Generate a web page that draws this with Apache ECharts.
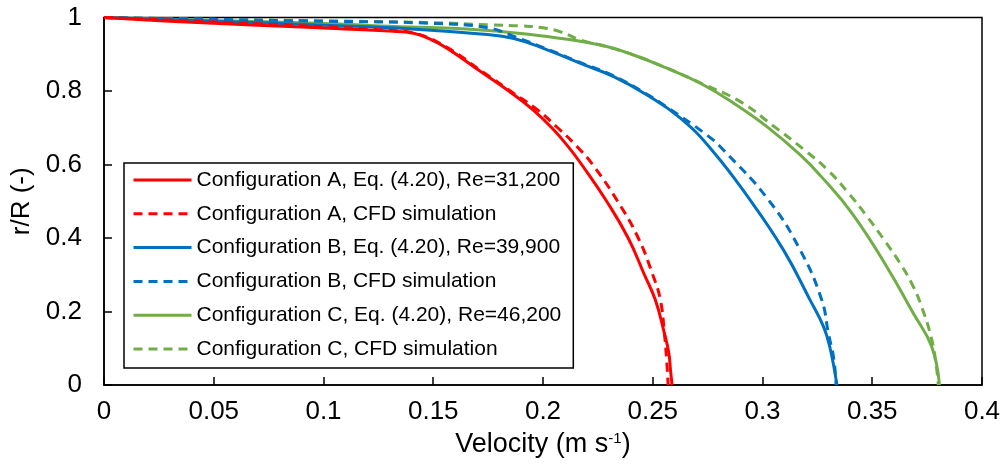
<!DOCTYPE html>
<html>
<head>
<meta charset="utf-8">
<script src="https://cdn.jsdelivr.net/npm/echarts@6/dist/echarts.min.js"></script>
<style>
html,body{margin:0;padding:0;background:#fff;}
#chart{width:1006px;height:465px;}
</style>
</head>
<body>
<div id="chart"></div>
<script>
// Tick labels / axis ranges
const xTicks = [0, 0.05, 0.1, 0.15, 0.2, 0.25, 0.3, 0.35, 0.4];
const yTicks = [0, 0.2, 0.4, 0.6, 0.8, 1];

const seriesNames = [
  'Configuration A, Eq. (4.20), Re=31,200',
  'Configuration A, CFD simulation',
  'Configuration B, Eq. (4.20), Re=39,900',
  'Configuration B, CFD simulation',
  'Configuration C, Eq. (4.20), Re=46,200',
  'Configuration C, CFD simulation'
];

// [velocity (m/s), r/R]
const configA_eq = [[0,1],[0.03,0.99],[0.07,0.979],[0.11,0.969],[0.13,0.963],[0.141,0.957],[0.149,0.94],[0.1564,0.916],[0.1716,0.853],[0.1858,0.794],[0.1952,0.75],[0.204,0.7],[0.2113,0.65],[0.2176,0.6],[0.229,0.5],[0.2388,0.4],[0.2462,0.3],[0.2512,0.231],[0.2553,0.141],[0.2573,0.088],[0.2581,0.04],[0.2588,0]];
const configA_cfd = [[0,1],[0.05,0.988],[0.1,0.975],[0.13,0.965],[0.141,0.958],[0.1564,0.918],[0.1716,0.856],[0.1866,0.794],[0.1972,0.75],[0.2067,0.7],[0.2153,0.65],[0.2226,0.6],[0.234,0.5],[0.2434,0.4],[0.25,0.3],[0.2535,0.231],[0.2553,0.141],[0.2563,0.07],[0.257,0]];
const configB_eq = [[0,1],[0.05,0.99],[0.1,0.979],[0.14,0.969],[0.1716,0.955],[0.1867,0.943],[0.2019,0.912],[0.2171,0.875],[0.2322,0.839],[0.2474,0.789],[0.2626,0.726],[0.277,0.639],[0.2944,0.503],[0.3096,0.367],[0.3217,0.231],[0.3278,0.159],[0.3308,0.1],[0.3339,0]];
const configB_cfd = [[0,1],[0.05,0.995],[0.1,0.99],[0.15,0.984],[0.175,0.972],[0.187,0.948],[0.2019,0.914],[0.2171,0.877],[0.2322,0.841],[0.2474,0.791],[0.255,0.762],[0.2747,0.68],[0.2823,0.639],[0.3028,0.503],[0.3172,0.367],[0.327,0.231],[0.330,0.141],[0.3325,0.07],[0.3335,0]];
const configC_eq = [[0,1],[0.05,0.992],[0.1,0.984],[0.126,0.977],[0.1716,0.966],[0.2019,0.948],[0.2262,0.925],[0.2413,0.898],[0.2565,0.862],[0.2717,0.821],[0.2868,0.767],[0.302,0.703],[0.3172,0.626],[0.3268,0.567],[0.3408,0.467],[0.3566,0.322],[0.3687,0.195],[0.3771,0.104],[0.3806,0]];
const configC_cfd = [[0,1],[0.05,0.995],[0.1,0.991],[0.15,0.986],[0.176,0.98],[0.19,0.977],[0.2,0.972],[0.208,0.961],[0.217,0.939],[0.2262,0.925],[0.2413,0.898],[0.2565,0.862],[0.2717,0.822],[0.2899,0.771],[0.3045,0.707],[0.319,0.64],[0.3297,0.585],[0.3395,0.52],[0.3477,0.458],[0.3548,0.4],[0.3627,0.331],[0.3685,0.27],[0.3725,0.213],[0.3768,0.131],[0.379,0.06],[0.3801,0]];

const colors = ['#FF0000','#FF0000','#0070C0','#0070C0','#70AD47','#70AD47'];
const dataSets = [configA_eq, configA_cfd, configB_eq, configB_cfd, configC_eq, configC_cfd];
const FONT = "'Liberation Sans', Arial, sans-serif";

const chart = echarts.init(document.getElementById('chart'), null, {renderer: 'canvas'});

const series = dataSets.map((d, i) => ({
  name: seriesNames[i],
  type: 'line',
  data: d,
  symbol: 'none',
  showSymbol: false,
  smooth: 0.45,
  z: 10 - i,
  lineStyle: {
    color: colors[i],
    width: 3,
    type: i % 2 === 1 ? [9, 6] : 'solid'
  },
  itemStyle: {color: 'rgba(0,0,0,0)', borderWidth: 0}
}));

chart.setOption({
  backgroundColor: '#fff',
  animation: false,
  grid: {
    left: 104, right: 24, top: 17.5, bottom: 80,
    show: true, borderColor: '#000', borderWidth: 1.5, backgroundColor: 'transparent'
  },
  legend: {
    orient: 'vertical',
    left: 124, top: 163,
    padding: [6, 12, 8, 8],
    itemWidth: 58, itemHeight: 14, itemGap: 11.8,
    borderColor: '#000', borderWidth: 1.5,
    backgroundColor: '#fff',
    itemStyle: {color: 'rgba(0,0,0,0)', borderWidth: 0, opacity: 0},
    lineStyle: {width: 3},
    textStyle: {fontFamily: FONT, fontSize: 21, color: '#000', lineHeight: 22},
    data: seriesNames
  },
  xAxis: {
    type: 'value',
    min: xTicks[0], max: xTicks[xTicks.length - 1], interval: 0.05,
    name: '{a|Velocity (m s}{b|-1}{a|)}',
    nameLocation: 'middle', nameGap: 46,
    nameTextStyle: {
      rich: {
        a: {fontFamily: FONT, fontSize: 27, color: '#000'},
        b: {fontFamily: FONT, fontSize: 15, color: '#000', verticalAlign: 'top'}
      }
    },
    axisLine: {show: true, onZero: false, lineStyle: {color: '#000', width: 1.5}},
    axisTick: {show: true, inside: true, length: 8, lineStyle: {color: '#000', width: 1.5}},
    axisLabel: {fontFamily: FONT, fontSize: 26, color: '#000', margin: 14},
    splitLine: {show: false}
  },
  yAxis: {
    type: 'value',
    min: yTicks[0], max: yTicks[yTicks.length - 1], interval: 0.2,
    name: 'r/R (-)',
    nameLocation: 'middle', nameGap: 57,
    nameTextStyle: {fontFamily: FONT, fontSize: 26, color: '#000'},
    axisLine: {show: true, onZero: false, lineStyle: {color: '#000', width: 1.5}},
    axisTick: {show: true, inside: true, length: 8, lineStyle: {color: '#000', width: 1.5}},
    axisLabel: {fontFamily: FONT, fontSize: 26, color: '#000', margin: 22},
    splitLine: {show: false}
  },
  series: series
});
</script>
</body>
</html>
